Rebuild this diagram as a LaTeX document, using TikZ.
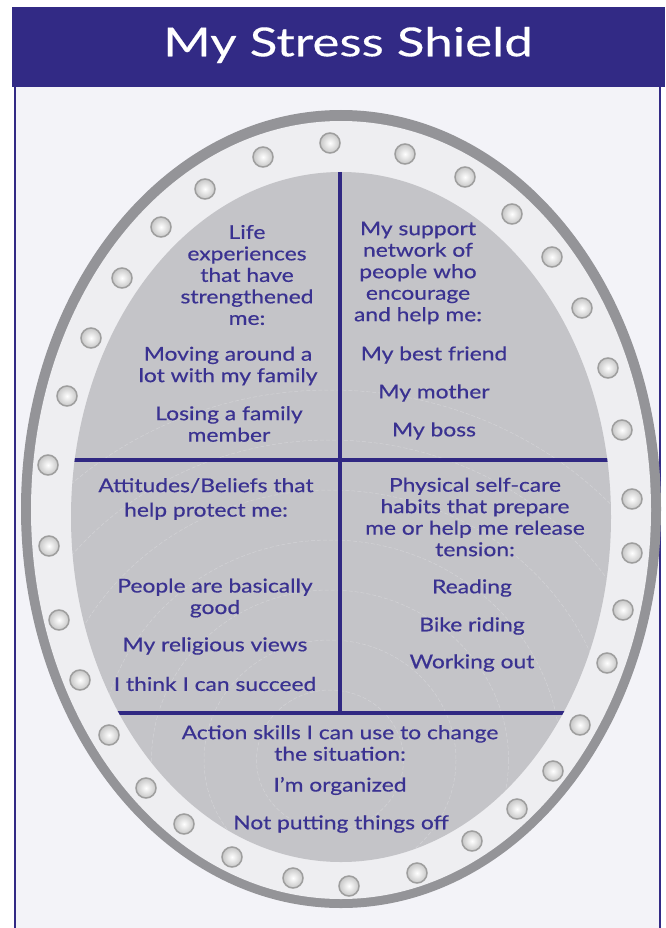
\documentclass[tikz,border=0pt]{standalone}
\usepackage{fontspec}
\setmainfont{Lato}
\newfontfamily\bodyfont{Lato}[FakeStretch=1.2, FakeBold=0.5]
\newfontfamily\titlefont{Lato}[FakeStretch=1.28, FakeBold=0.3]
\definecolor{bandpurple}{RGB}{50,42,133}
\definecolor{textpurple}{RGB}{58,50,145}
\definecolor{linepurple}{RGB}{48,40,130}
\definecolor{panelbg}{RGB}{243,243,248}
\definecolor{ringdark}{RGB}{148,148,152}
\definecolor{ringlight}{RGB}{238,238,241}
\definecolor{innergray}{RGB}{196,196,200}
\tikzset{
  txt/.style={text=textpurple, font=\bodyfont\fontsize{19}{21.5}\selectfont, align=center, inner sep=0pt},
  rivet/.style={draw=black!38, line width=1.5, inner color=white, outer color=black!22},
  divider/.style={draw=linepurple, line width=3.6},
  contour/.style={draw=white, opacity=0.25, line width=0.5, dash pattern=on 4pt off 2pt}
}
\begin{document}
\begin{tikzpicture}[x=1pt,y=-1pt]
\useasboundingbox (0,0) rectangle (665,928);
\fill[white] (0,0) rectangle (665,928);
% panel
\fill[panelbg] (14,86) rectangle (661,928);
\draw[bandpurple, line width=1.6] (15,86) -- (15,928);
\draw[bandpurple, line width=1.6] (660,86) -- (660,928);
% title band
\fill[bandpurple] (12,7) rectangle (665,87);
\node[text=white, font=\titlefont\fontsize{40}{48}\selectfont, inner sep=0pt] (title) at (348,45) {My Stress Shield};
% shield
\fill[ringdark] (341,509) ellipse [x radius=320, y radius=399];
\fill[ringlight] (341,510) ellipse [x radius=310, y radius=389];
\fill[innergray] (341,517) ellipse [x radius=270, y radius=345];
\begin{scope}
  \clip (341,517) ellipse [x radius=270, y radius=345];
  \foreach \r in {70,120,170,220,270,320,370}
    \draw[contour] (330,760) ellipse [x radius=\r*1.05, y radius=\r];
  \draw[divider] (340,160) -- (340,713);
  \draw[divider] (60,460) -- (620,460);
  \draw[divider] (100,713) -- (580,713);
\end{scope}
% rivets
\foreach \x/\y in {330/143,405/154,465/177,512/214,552/257,582/308,608/368,622/430,632/499,632/553,623/610,607/663,580/725,553/771,517/809,472/841,417/873,349/886,293/878,232/857,184/824,146/788,109/735,80/680,59/620,49/546,48/465,67/396,91/338,122/278,161/227,205/189,263/157}
  \shadedraw[rivet] (\x,\y) circle (10);
% texts
\node[txt] (tlh) at (247,275) {Life\\experiences\\that have\\strengthened\\me:};
\node[txt] (tl1) at (228,366) {Moving around a\\lot with my family};
\node[txt] (tl2) at (229,424) {Losing a family\\member};
\node[txt] (trh) at (418,273) {My support\\network of\\people who\\encourage\\and help me:};
\node[txt] (tr1) at (434,355) {My best friend};
\node[txt] (tr2) at (434,393) {My mother};
\node[txt] (tr3) at (434,431) {My boss};
\node[txt] (blh) at (206,499) {Attitudes/Beliefs that\\[3pt]help protect me:};
\node[txt] (bl1) at (215,598) {People are basically\\good};
\node[txt] (bl2) at (215,646) {My religious views};
\node[txt] (bl3) at (215,684) {I think I can succeed};
\node[txt] (brh) at (475,517) {Physical self-care\\habits that prepare\\me or help me release\\tension:};
\node[txt] (br1) at (472,588) {Reading};
\node[txt] (br2) at (472,626) {Bike riding};
\node[txt] (br3) at (472,663) {Working out};
\node[txt] (bh) at (340,743) {Action skills I can use to change\\the situation:};
\node[txt] (b1) at (340,786) {I’m organized};
\node[txt] (b2) at (341,824) {Not putting things off};
\end{tikzpicture}
\end{document}
